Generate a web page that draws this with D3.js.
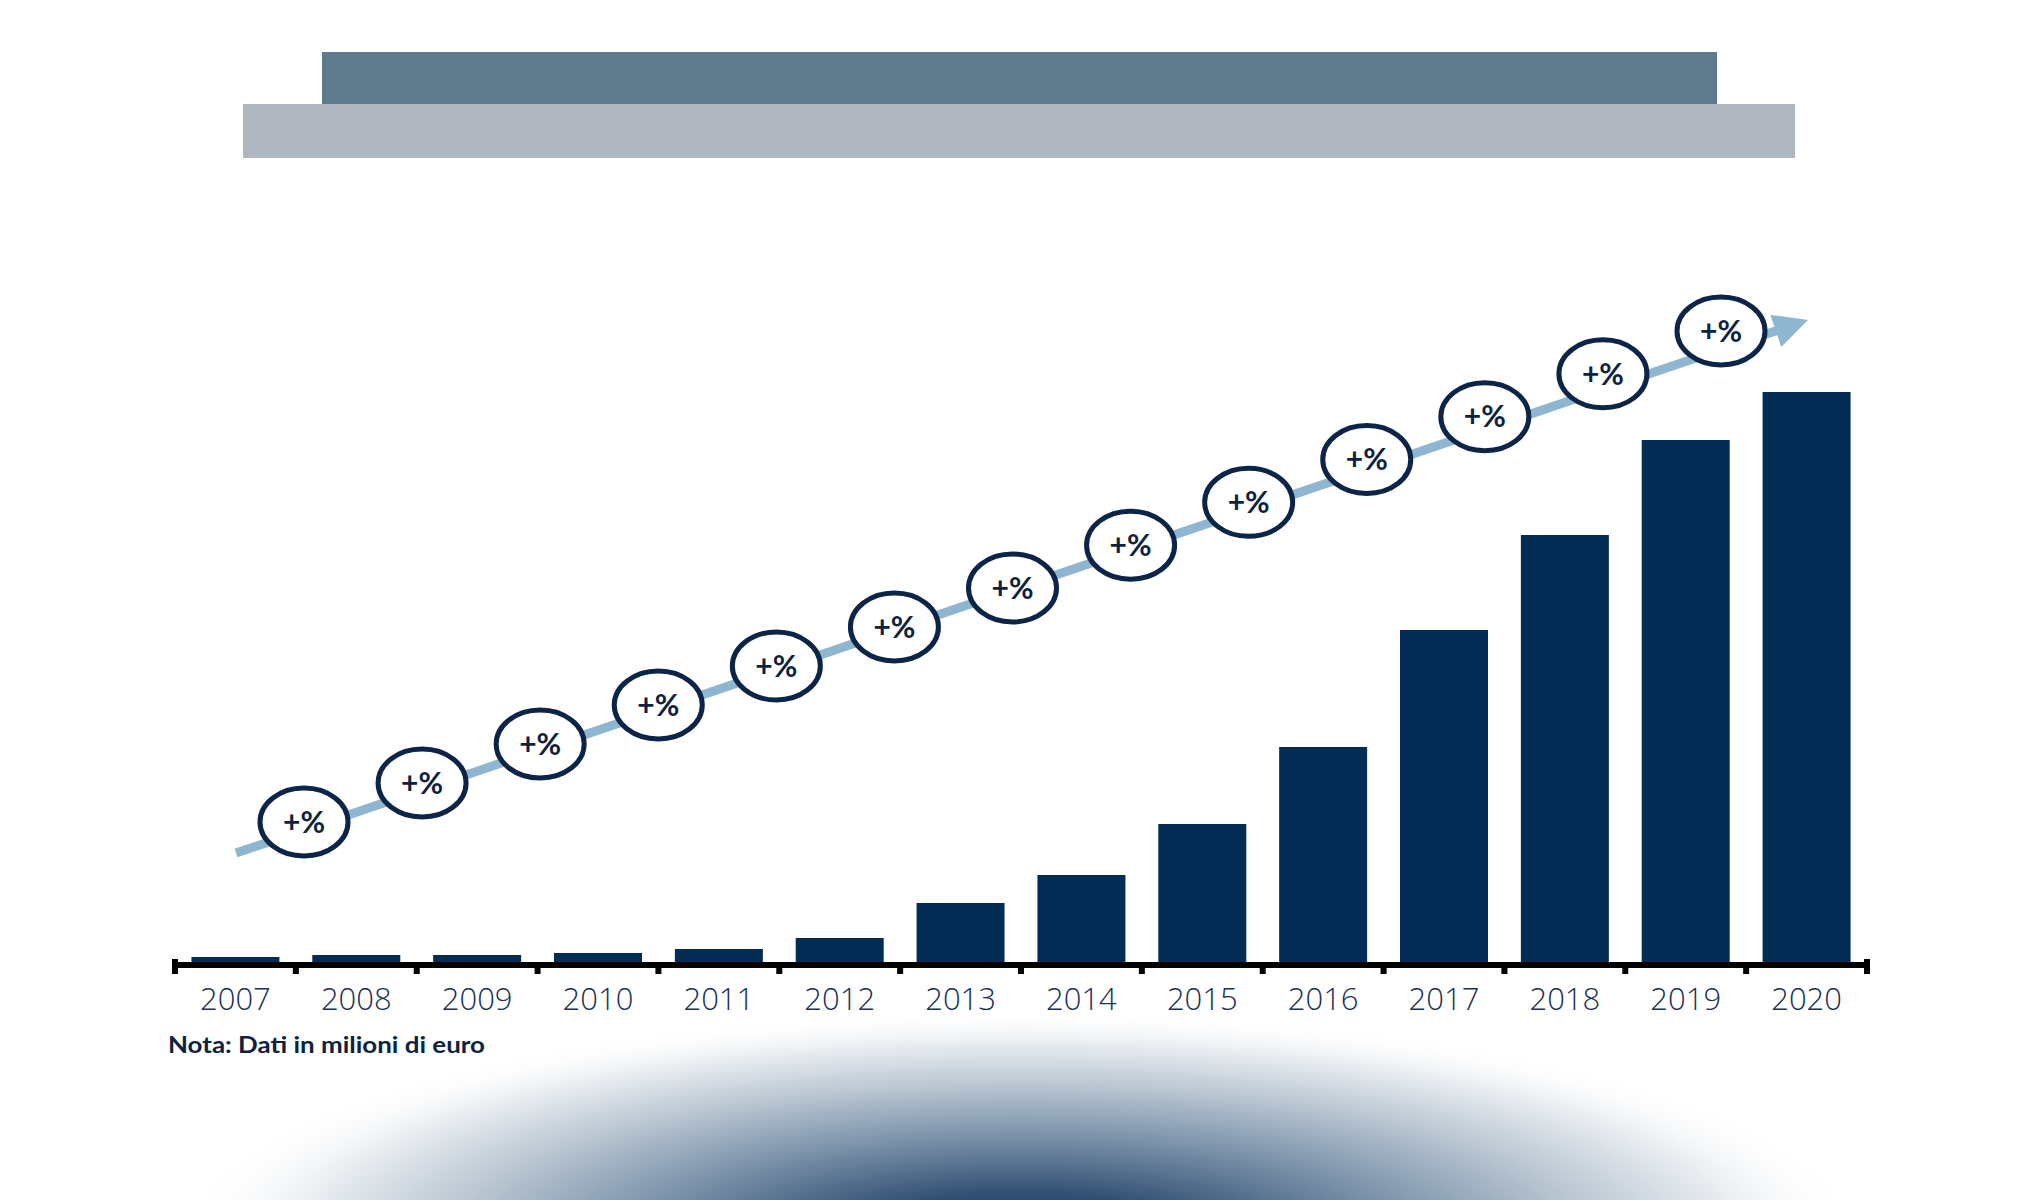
<!DOCTYPE html>
<html>
<head>
<meta charset="utf-8">
<script src="https://cdn.jsdelivr.net/npm/d3@7"></script>
<style>
  html, body { margin: 0; padding: 0; background: #ffffff; }
  svg { display: block; }
</style>
</head>
<body>
<svg id="chart" width="2040" height="1200"></svg>
<script>
// ---------------- DATA ----------------
const years = ["2007","2008","2009","2010","2011","2012","2013","2014","2015","2016","2017","2018","2019","2020"];
const values = [5, 7, 7, 9, 13, 24, 59, 87, 138, 215, 332, 427, 522, 570];
const growthLabels = ["+%","+%","+%","+%","+%","+%","+%","+%","+%","+%","+%","+%","+%"];
const noteText = "Nota: Dati in milioni di euro";

// ---------------- LAYOUT ----------------
const W = 2040, H = 1200;
const baseY = 962;
const svg = d3.select("#chart");
const defs = svg.append("defs");

// bottom radial glow
const rg = defs.append("radialGradient").attr("id", "glow")
  .attr("cx", "50%").attr("cy", "50%").attr("r", "50%");
[[0, "#24436a", 1], [0.2, "#314f73", 1], [0.45, "#7b92aa", 1], [0.67, "#bac6d2", 1], [0.85, "#e9edf1", 1], [1, "#ffffff", 0]]
  .forEach(([o, c, op]) => rg.append("stop").attr("offset", o).attr("stop-color", c).attr("stop-opacity", op));
svg.append("ellipse")
  .attr("cx", 1020).attr("cy", 1240).attr("rx", 850).attr("ry", 232)
  .attr("fill", "url(#glow)");

// header banners
svg.append("rect").attr("x", 243).attr("y", 104).attr("width", 1552).attr("height", 54).attr("fill", "#b0b7be");
svg.append("rect").attr("x", 322).attr("y", 52).attr("width", 1395).attr("height", 52).attr("fill", "#5e7a8c");

// scales
const x = d3.scaleBand().domain(years).range([175, 1867]).paddingInner(0.272).paddingOuter(0.136);
const y = d3.scaleLinear().domain([0, 600]).range([baseY, baseY - 600]);

// bars
svg.append("g").selectAll("rect").data(values).join("rect")
  .attr("x", (d, i) => x(years[i]))
  .attr("y", d => y(d))
  .attr("width", x.bandwidth())
  .attr("height", d => y(0) - y(d))
  .attr("fill", "#032c54");

// axis labels via d3 axis
const axisG = svg.append("g").attr("transform", `translate(0,${baseY + 6})`)
  .call(d3.axisBottom(x).tickSize(0).tickPadding(20));
axisG.select(".domain").remove();
axisG.selectAll("text")
  .attr("font-family", "'Open Sans', sans-serif")
  .attr("font-weight", 300)
  .attr("font-size", 31)
  .attr("fill", "#1a3054")
  .attr("dy", "0.71em");

// axis baseline and boundary ticks
const step = x.step();
const boundaries = years.map(d => x(d) - step * x.paddingInner() / 2);
boundaries.push(x(years[years.length - 1]) + x.bandwidth() + step * x.paddingInner() / 2);
svg.append("rect").attr("x", boundaries[0] - 3).attr("y", baseY).attr("width", boundaries[boundaries.length - 1] - boundaries[0] + 6).attr("height", 6).attr("fill", "#000");
svg.append("g").selectAll("rect").data(boundaries).join("rect")
  .attr("x", d => d - 3)
  .attr("y", (d, i) => (i === 0 || i === boundaries.length - 1) ? baseY - 3 : baseY)
  .attr("width", 6)
  .attr("height", (d, i) => (i === 0 || i === boundaries.length - 1) ? 15 : 12)
  .attr("fill", "#000");

// note
svg.append("text")
  .attr("x", 168).attr("y", 1053)
  .attr("font-family", "Lato, 'Open Sans', sans-serif")
  .attr("font-weight", 700)
  .attr("font-size", 22)
  .attr("fill", "#0d2240")
  .attr("textLength", 317)
  .attr("lengthAdjust", "spacingAndGlyphs")
  .text(noteText);

// growth arrow
const a0 = [236, 853], a1 = [1808, 320];
const dx = a1[0] - a0[0], dy = a1[1] - a0[1];
const len = Math.hypot(dx, dy), ux = dx / len, uy = dy / len;
const headLen = 34, headHalf = 17;
const hb = [a1[0] - ux * headLen, a1[1] - uy * headLen];
svg.append("line")
  .attr("x1", a0[0]).attr("y1", a0[1])
  .attr("x2", hb[0] + ux * 2).attr("y2", hb[1] + uy * 2)
  .attr("stroke", "#8fb6d0").attr("stroke-width", 9);
svg.append("path")
  .attr("d", d3.line()([
    a1,
    [hb[0] - uy * headHalf, hb[1] + ux * headHalf],
    [hb[0] + uy * headHalf, hb[1] - ux * headHalf]
  ]) + "Z")
  .attr("fill", "#8fb6d0");

// growth bubbles
const nB = growthLabels.length - 1;
const cx = d3.scaleLinear().domain([0, nB]).range([304, 1721]);
const cy = d3.scaleLinear().domain([0, nB / 2, nB]).range([822, 588, 331]);
const bub = svg.append("g").selectAll("g").data(growthLabels).join("g")
  .attr("transform", (d, i) => `translate(${cx(i)},${cy(i)})`);
bub.append("ellipse")
  .attr("rx", 44).attr("ry", 34)
  .attr("fill", "#ffffff")
  .attr("stroke", "#0b2447").attr("stroke-width", 5);
bub.append("text")
  .attr("text-anchor", "middle")
  .attr("dy", "0.36em")
  .attr("font-family", "Lato, 'Open Sans', sans-serif")
  .attr("font-weight", 700)
  .attr("font-size", 30)
  .attr("fill", "#0d2240")
  .text(d => d);
</script>
</body>
</html>
